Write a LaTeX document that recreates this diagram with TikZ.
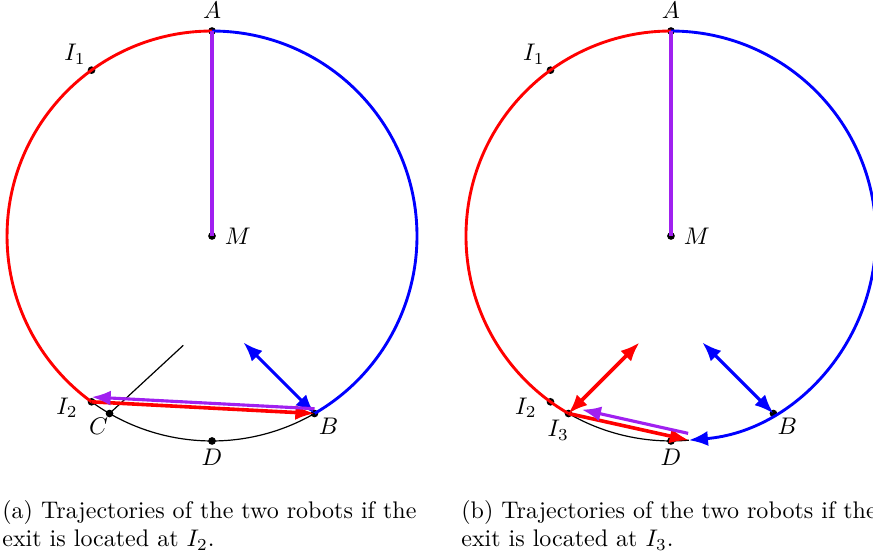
\documentclass[tikz,border=0pt]{standalone}
\usepackage{amsmath}
\usetikzlibrary{arrows.meta,calc}
\definecolor{exit}{HTML}{FF0000}
\definecolor{rob}{HTML}{0000FF}
\definecolor{chase}{HTML}{A020F0}
\definecolor{ink}{HTML}{000000}
\tikzset{
  >={Latex[length=2.8mm,width=2.2mm]},
  every picture/.style={line join=round},
  exitarc/.style={draw=exit, line width=1.2pt},
  robarc/.style={draw=rob, line width=1.2pt},
  inkarc/.style={draw=ink, line width=0.5pt},
  exitarr/.style={->, draw=exit, line width=1.5pt},
  robarr/.style={<->, draw=rob, line width=1.3pt},
  chasearr/.style={->, draw=chase, line width=1.3pt},
  radius line/.style={draw=chase, line width=1.4pt},
  pt/.style={circle, fill=ink, inner sep=0pt, minimum size=3.2pt},
  captext/.style={anchor=base west, align=left, inner sep=0pt, font=\normalsize},
}
\begin{document}
\begin{tikzpicture}
  \useasboundingbox (-3.103,3.454) rectangle (9.674,-4.683);
  % ======================= (a) exit at I_2 =======================
  \begin{scope}[shift={(0,0)}]
    \node[pt, label={right:$M$}] (M) at (0,0) {};
    \node[pt, label={above:$A$}] (A) at (90:3) {};
    \node[pt, label={[inner sep=1pt]above left:$I_1$}] (I1) at (126:3) {};
    \node[pt] (I2) at (234:3) {};
    \node[pt] (C) at (240:3) {};
    \node[pt, label={[inner sep=1.5pt]below:$D$}] (D) at (270:3) {};
    \node[pt] (B) at (300:3) {};
    \node[anchor=east] at ($(I2)+(-0.08,-0.09)$) {$I_2$};
    \node[anchor=north east, inner sep=1pt] at ($(C)+(0.02,-0.03)$) {$C$};
    \node[anchor=north west, inner sep=1pt] at ($(B)+(0.02,-0.03)$) {$B$};
    \coordinate (c1) at (-0.42,-1.6);
    \coordinate (b1) at ($(B)+(135:1.47)$);
    \draw[exitarc] (A.center) arc[start angle=90, end angle=234, radius=3];
    \draw[robarc] (A.center) arc[start angle=90, end angle=-60, radius=3];
    \draw[inkarc] (I2.center) arc[start angle=234, end angle=300, radius=3];
    \draw[radius line] (M.center) -- (A.center);
    \draw[ink, line width=0.5pt] (C.center) -- (c1);
    \draw[robarr] (B.center) -- (b1);
    \draw[exitarr] (I2.center) -- (B.center);
    \draw[chasearr] ($(B.center)+(0,0.07)$) -- ($(I2.center)+(0,0.07)$);
    \node[captext] (capa) at (-3.075,-4.551) {(a) Trajectories of the two robots if the\\exit is located at $I_2$.};
  \end{scope}

  % ======================= (b) exit at I_3 =======================
  \begin{scope}[shift={(6.717,0)}]
    \node[pt, label={right:$M$}] (M') at (0,0) {};
    \node[pt, label={above:$A$}] (A') at (90:3) {};
    \node[pt, label={[inner sep=1pt]above left:$I_1$}] (I1') at (126:3) {};
    \node[pt] (I2') at (234:3) {};
    \node[pt] (I3) at (240:3) {};
    \node[pt, label={[inner sep=1.5pt]below:$D$}] (D') at (270:3) {};
    \node[pt] (B') at (300:3) {};
    \coordinate (E) at (275:3);
    \node[anchor=east] at ($(I2')+(-0.08,-0.09)$) {$I_2$};
    \node[anchor=north, inner sep=1pt] at ($(I3)+(-0.15,-0.06)$) {$I_3$};
    \node[anchor=north west, inner sep=1pt] at ($(B')+(0.02,-0.03)$) {$B$};
    \coordinate (e1) at ($(I3)+(45:1.47)$);
    \coordinate (b2) at ($(B')+(135:1.47)$);
    \draw[exitarc] (A'.center) arc[start angle=90, end angle=240, radius=3];
    \draw[inkarc] (I3.center) arc[start angle=240, end angle=275, radius=3];
    \draw[robarc, ->] (A'.center) arc[start angle=90, end angle=-85, radius=3];
    \draw[radius line] (M'.center) -- (A'.center);
    \draw[exitarr, <->] (I3.center) -- (e1);
    \draw[robarr] (B'.center) -- (b2);
    \draw[exitarr] (I3.center) -- (E);
    \draw[chasearr, shorten >=0.2cm] ($(E)+(-0.01,0.1)$) -- ($(I3.center)+(0,0.1)$);
    \node[captext] (capb) at (-3.075,-4.551) {(b) Trajectories of the two robots if the\\exit is located at $I_3$.};
  \end{scope}
\end{tikzpicture}
\end{document}
